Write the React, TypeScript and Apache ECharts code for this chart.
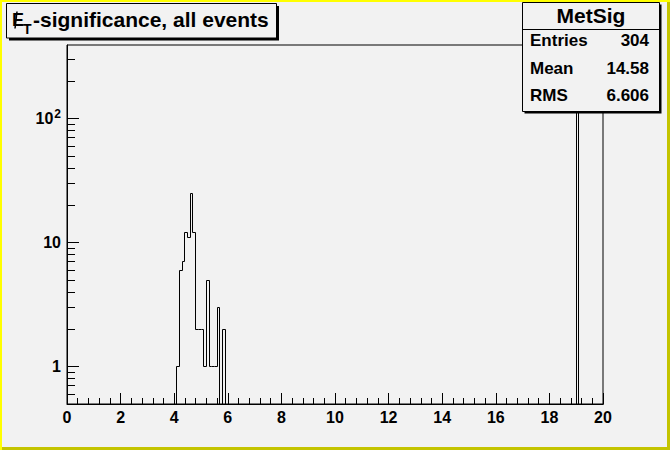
import React, { useEffect, useRef } from "react";
import * as echarts from "echarts";

// ---- data ----
const X_MIN = 0;
const X_MAX = 20;
const BIN_WIDTH = 0.1;
const Y_MIN = 0.5;
const Y_MAX = 393;

// lower edges of the non-empty bins and their contents
const filledBinLow = [4.1, 4.2, 4.3, 4.4, 4.5, 4.6, 4.7, 4.8, 4.9, 5.0, 5.1, 5.2, 5.3, 5.4, 5.5, 5.6, 5.8, 19.0];
const filledCounts = [1, 6, 7, 12, 11, 25, 12, 2, 2, 2, 1, 5, 1, 1, 1, 3, 2, 210];

const yMajorTicks = [1, 10, 100];
const yMinorTicks = [0.6, 0.7, 0.8, 0.9, 2, 3, 4, 5, 6, 7, 8, 9, 20, 30, 40, 50, 60, 70, 80, 90, 200, 300];

const titleSymbol = "E";
const titleSub = "T";
const titleRest = "-significance, all events";
const statsName = "MetSig";
const statsLabels = ["Entries", "Mean", "RMS"];
const statsValues = ["304", "14.58", "6.606"];

const FONT = "'Liberation Sans', Arial, sans-serif";
const BG = "#f2f2f2";

const nBins = Math.round((X_MAX - X_MIN) / BIN_WIDTH);
const counts: number[] = new Array(nBins).fill(0);
filledBinLow.forEach((lo, i) => {
  counts[Math.round((lo - X_MIN) / BIN_WIDTH)] = filledCounts[i];
});

const snap = (v: number) => Math.round(v - 0.5) + 0.5;

export default function App() {
  const ref = useRef<HTMLDivElement>(null);
  useEffect(() => {
    if (!ref.current) return;
    const chart = echarts.init(ref.current, null, { renderer: "svg" });

    const statRowY = [40, 68, 95];

    const option: any = {
      animation: false,
      backgroundColor: BG,
      grid: {
        left: 67,
        right: 67,
        top: 45,
        bottom: 46,
        show: true,
        borderColor: "#000",
        borderWidth: 1,
        backgroundColor: BG,
      },
      xAxis: {
        type: "value",
        min: X_MIN,
        max: X_MAX,
        interval: 2,
        axisLine: { show: true, onZero: false, lineStyle: { color: "#000", width: 1 } },
        axisTick: { show: true, inside: true, length: 11, lineStyle: { color: "#000" } },
        minorTick: { show: true, splitNumber: 5, length: 6, lineStyle: { color: "#000" } },
        splitLine: { show: false },
        minorSplitLine: { show: false },
        axisLabel: {
          color: "#000",
          fontWeight: "bold",
          fontSize: 16,
          fontFamily: FONT,
          margin: 5,
        },
      },
      yAxis: {
        type: "log",
        logBase: 10,
        min: Y_MIN,
        max: Y_MAX,
        axisLine: { show: true, onZero: false, lineStyle: { color: "#000", width: 1 } },
        axisTick: { show: false },
        splitLine: { show: false },
        axisLabel: {
          color: "#000",
          fontWeight: "bold",
          fontSize: 16,
          fontFamily: FONT,
          margin: 6,
          formatter: (v: number) => {
            const l = Math.log10(v);
            const r = Math.round(l);
            if (Math.abs(l - r) > 1e-6) return "";
            if (r === 0) return "{a|1}";
            if (r === 1) return "{a|10}";
            return "{a|10}{s|" + r + "}";
          },
          rich: {
            a: { fontSize: 16, fontWeight: "bold", fontFamily: FONT, color: "#000" },
            s: { fontSize: 12, fontWeight: "bold", fontFamily: FONT, color: "#000", padding: [0, 0, 9, 1] },
          },
        },
      },
      series: [
        {
          type: "custom",
          silent: true,
          z: 5,
          data: [[X_MIN, 1]],
          encode: { x: 0, y: 1 },
          renderItem: (_params: any, api: any) => {
            const yOf = (c: number) => api.coord([X_MIN, c > 0 ? c : Y_MIN])[1];
            const pts: number[][] = [];
            let lastX = api.coord([X_MIN, Y_MIN])[0];
            pts.push([snap(lastX), snap(yOf(0))]);
            for (let i = 0; i < nBins; i++) {
              const xLo = X_MIN + i * BIN_WIDTH;
              const xHi = xLo + BIN_WIDTH;
              const px0 = api.coord([xLo, Y_MIN])[0];
              const px1 = api.coord([xHi, Y_MIN])[0];
              const py = yOf(counts[i]);
              pts.push([snap(px0), snap(py)], [snap(px1), snap(py)]);
              lastX = px1;
            }
            pts.push([snap(lastX), snap(yOf(0))]);
            return {
              type: "polyline",
              shape: { points: pts },
              style: { stroke: "#000", lineWidth: 1, fill: "none" },
            };
          },
        },
        {
          type: "custom",
          silent: true,
          z: 4,
          data: [[X_MIN, 1]],
          encode: { x: 0, y: 1 },
          renderItem: (_params: any, api: any) => {
            const children: any[] = [];
            const add = (v: number, len: number) => {
              const p = api.coord([X_MIN, v]);
              const x = Math.round(p[0]);
              const y = snap(p[1]);
              children.push({
                type: "line",
                shape: { x1: x, y1: y, x2: x + len, y2: y },
                style: { stroke: "#000", lineWidth: 1 },
              });
            };
            yMajorTicks.forEach((v) => add(v, 12));
            yMinorTicks.forEach((v) => add(v, 8));
            return { type: "group", children };
          },
        },
      ],
      graphic: [
        // canvas bevel border
        { type: "rect", z: 200, shape: { x: 0, y: 0, width: 670, height: 2 }, style: { fill: "#ffff00" } },
        { type: "rect", z: 200, shape: { x: 0, y: 0, width: 2, height: 450 }, style: { fill: "#ffff00" } },
        { type: "rect", z: 199, shape: { x: 667, y: 2, width: 3, height: 448 }, style: { fill: "#c4c400" } },
        { type: "rect", z: 199, shape: { x: 2, y: 447, width: 668, height: 3 }, style: { fill: "#c4c400" } },
        // title box
        { type: "rect", z: 100, shape: { x: 9, y: 6, width: 270, height: 34.5 }, style: { fill: "#000" } },
        {
          type: "rect",
          z: 101,
          shape: { x: 6.5, y: 3.5, width: 270, height: 34.5 },
          style: { fill: BG, stroke: "#000", lineWidth: 1 },
        },
        {
          type: "text",
          z: 102,
          x: 12,
          y: 19.5,
          style: {
            text: titleSymbol,
            font: "bold 18px " + FONT,
            fill: "#000",
            verticalAlign: "middle",
          },
        },
        {
          type: "line",
          z: 103,
          shape: { x1: 17, y1: 11.5, x2: 15, y2: 28.5 },
          style: { stroke: "#000", lineWidth: 1.5 },
        },
        {
          type: "text",
          z: 102,
          x: 23,
          y: 29,
          style: {
            text: titleSub,
            font: "bold 14px " + FONT,
            fill: "#000",
            verticalAlign: "middle",
          },
        },
        {
          type: "text",
          z: 102,
          x: 33,
          y: 19.5,
          style: {
            text: titleRest,
            font: "bold 21px " + FONT,
            fill: "#000",
            verticalAlign: "middle",
          },
        },
        // stats box
        { type: "rect", z: 100, shape: { x: 524.5, y: 4.5, width: 137, height: 109 }, style: { fill: "#000" } },
        {
          type: "rect",
          z: 101,
          shape: { x: 522.5, y: 2.5, width: 137, height: 109 },
          style: { fill: BG, stroke: "#000", lineWidth: 1 },
        },
        {
          type: "line",
          z: 102,
          shape: { x1: 522.5, y1: 29.5, x2: 659.5, y2: 29.5 },
          style: { stroke: "#000", lineWidth: 1 },
        },
        {
          type: "text",
          z: 102,
          x: 591,
          y: 15.5,
          style: {
            text: statsName,
            font: "bold 21px " + FONT,
            fill: "#000",
            align: "center",
            verticalAlign: "middle",
          },
        },
        ...statsLabels.map((t, i) => ({
          type: "text",
          z: 102,
          x: 530,
          y: statRowY[i],
          style: { text: t, font: "bold 17px " + FONT, fill: "#000", verticalAlign: "middle" },
        })),
        ...statsValues.map((t, i) => ({
          type: "text",
          z: 102,
          x: 649,
          y: statRowY[i],
          style: {
            text: t,
            font: "bold 17px " + FONT,
            fill: "#000",
            align: "right",
            verticalAlign: "middle",
          },
        })),
      ],
    };

    chart.setOption(option);
    return () => chart.dispose();
  }, []);

  return (
    <div
      ref={ref}
      style={{ position: "fixed", left: 0, top: 0, width: 670, height: 450, margin: 0 }}
    />
  );
}
